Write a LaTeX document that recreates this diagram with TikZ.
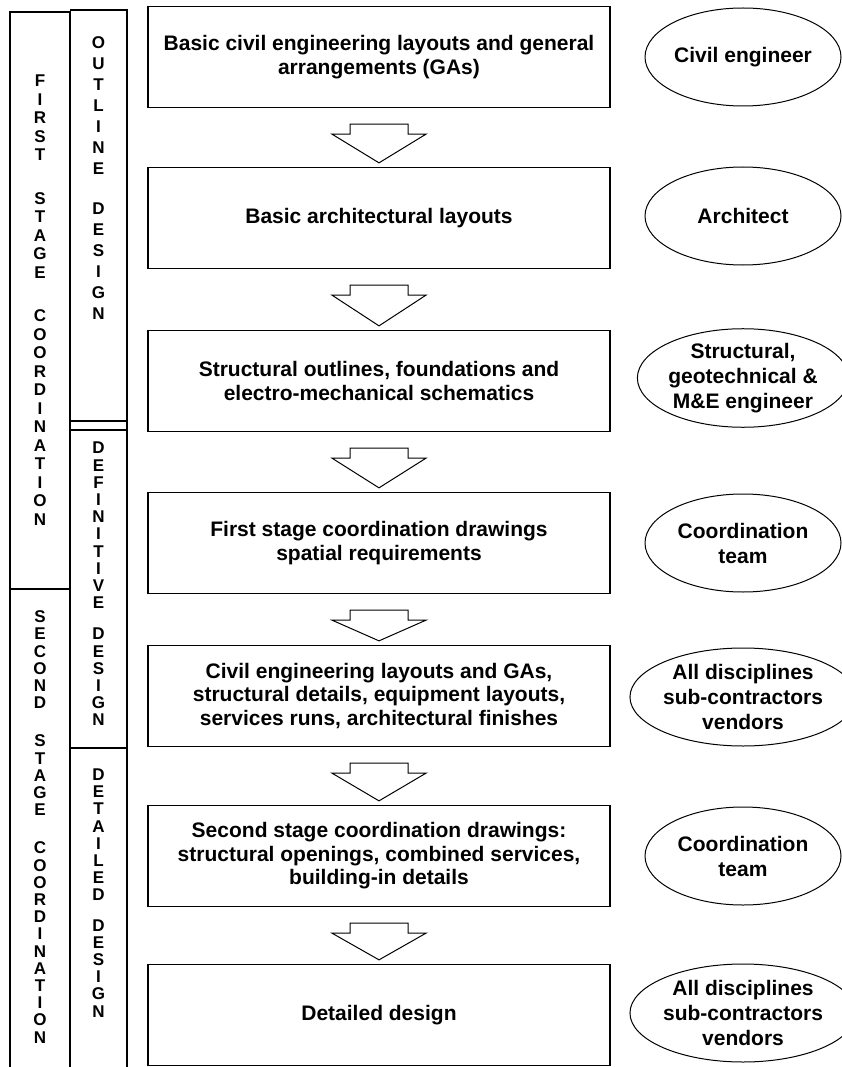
\documentclass[tikz,border=0pt]{standalone}
\usepackage{fontspec}
\setmainfont{Liberation Sans}
\usetikzlibrary{shapes.geometric,calc}

% hollow block arrow from one box down to the next
\newcommand\hollowdown[2]{%
  \draw[flowarrow] ($(#1.south)+(-29,16)$) -- ($(#1.south)+(-29,26)$) -- ($(#1.south)+(-47,26)$)
    -- ($(#2.north)+(0,-4)$) -- ($(#1.south)+(47,26)$) -- ($(#1.south)+(29,26)$)
    -- ($(#1.south)+(29,16)$) -- cycle;}

\begin{document}
\begin{tikzpicture}[x=1pt,y=-1pt,
    stepbox/.style={draw,line width=1.3pt,minimum width=462,minimum height=101,inner sep=0pt,
      align=center,font=\bfseries\fontsize{21}{23.5}\selectfont},
    rolebox/.style={ellipse,draw,line width=1pt,minimum width=196,minimum height=98,inner sep=0pt,
      align=center,font=\bfseries\fontsize{21}{25}\selectfont},
    vlabel/.style={align=center,inner sep=0pt,font=\bfseries\fontsize{17}{#1}\selectfont},
    colline/.style={line width=1.2pt},
    flowarrow/.style={line width=1pt,line join=miter}]
  \useasboundingbox (0,0) rectangle (841,1067);

  % side columns
  \draw[colline] (10,1067) -- (10,12) -- (70,12) -- (70,1067);
  \draw[colline] (70,10) -- (127,10) -- (127,1067);
  \draw[colline] (10,589) -- (70,589);
  \draw[colline] (70,421) -- (127,421) (70,430) -- (127,430) (70,748) -- (127,748);

  \node[vlabel=18.5pt] (first) at (40,300)
    {F\\I\\R\\S\\T\\[25pt]S\\T\\A\\G\\E\\[25pt]C\\O\\O\\R\\D\\I\\N\\A\\T\\I\\O\\N};
  \node[vlabel=17.2pt] (second) at (40,827)
    {S\\E\\C\\O\\N\\D\\[21pt]S\\T\\A\\G\\E\\[21pt]C\\O\\O\\R\\D\\I\\N\\A\\T\\I\\O\\N};
  \node[vlabel=21pt] (outline) at (98.5,178)
    {O\\U\\T\\L\\I\\N\\E\\[19pt]D\\E\\S\\I\\G\\N};
  \node[vlabel=17.2pt] (definitive) at (98.5,584)
    {D\\E\\F\\I\\N\\I\\T\\I\\V\\E\\[14pt]D\\E\\S\\I\\G\\N};
  \node[vlabel=17.2pt] (detailed) at (98.5,893)
    {D\\E\\T\\A\\I\\L\\E\\D\\[13pt]D\\E\\S\\I\\G\\N};

  % drawing stages
  \node[stepbox] (b1) at (379,57) {Basic civil engineering layouts and general\\arrangements (GAs)};
  \node[stepbox] (b2) at (379,218) {Basic architectural layouts};
  \node[stepbox] (b3) at (379,381) {Structural outlines, foundations and\\electro-mechanical schematics};
  \node[stepbox] (b4) at (379,543) {First stage coordination drawings\\spatial requirements};
  \node[stepbox] (b5) at (379,696) {Civil engineering layouts and GAs,\\structural details, equipment layouts,\\services runs, architectural finishes};
  \node[stepbox] (b6) at (379,856) {Second stage coordination drawings:\\structural openings, combined services,\\building-in details};
  \node[stepbox] (b7) at (379,1015) {Detailed design};

  \hollowdown{b1}{b2}
  \hollowdown{b2}{b3}
  \hollowdown{b3}{b4}
  \hollowdown{b4}{b5}
  \hollowdown{b5}{b6}
  \hollowdown{b6}{b7}

  % who produces them
  \node[rolebox] (r1) at (743,57) {Civil engineer};
  \node[rolebox] (r2) at (743,216) {Architect};
  \node[rolebox] (r3) at (743,378) {Structural,\\geotechnical \&\\M\&E engineer};
  \node[rolebox] (r4) at (743,543) {Coordination\\team};
  \node[rolebox] (r5) at (743,697) {All disciplines\\sub-contractors\\vendors};
  \node[rolebox] (r6) at (743,856) {Coordination\\team};
  \node[rolebox] (r7) at (743,1013) {All disciplines\\sub-contractors\\vendors};
\end{tikzpicture}
\end{document}
